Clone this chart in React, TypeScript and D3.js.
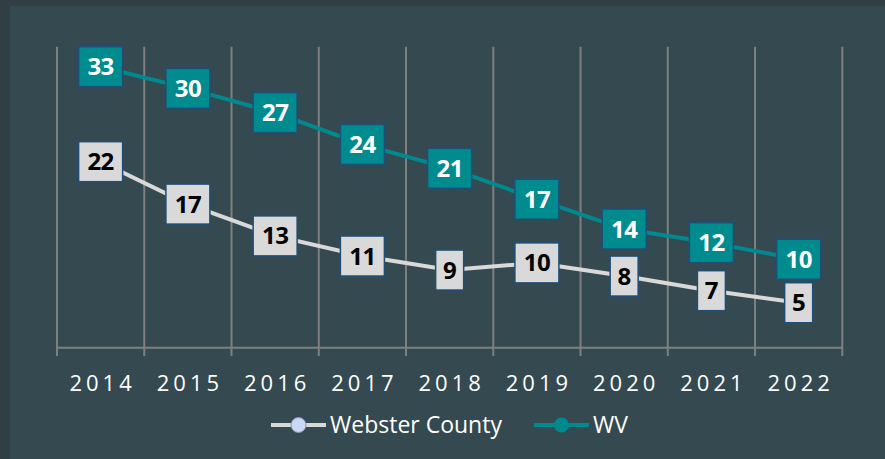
import React from "react";
import * as d3 from "d3";

const years = ["2014", "2015", "2016", "2017", "2018", "2019", "2020", "2021", "2022"];
const websterValues = [21.63, 16.7, 13.0, 10.66, 9.03, 9.86, 8.33, 6.63, 5.23];
const wvValues = [32.67, 30.16, 27.33, 23.63, 20.86, 17.26, 13.8, 12.21, 10.28];
const seriesNames = ["Webster County", "WV"];

const W = 885;
const H = 459;
const FONT = "'Open Sans', 'Noto Sans', sans-serif";

export default function App() {
  const x = d3.scaleBand<string>().domain(years).range([57, 842.3]).padding(0);
  const y = d3.scaleLinear().domain([0, 35]).range([347.7, 46.7]);
  const cx = (d: string) => (x(d) as number) + x.bandwidth() / 2;
  const line = d3
    .line<number>()
    .x((_, i) => cx(years[i]))
    .y((v) => y(v));
  const gridXs = years.map((d) => x(d) as number).concat([842.3]);

  const series = [
    { name: seriesNames[0], values: websterValues, stroke: "#d9d9d9", fill: "#d9d9d9", text: "#000000", marker: "#c9d8f7", markerStroke: "#8a8fb0" },
    { name: seriesNames[1], values: wvValues, stroke: "#00898e", fill: "#008b8f", text: "#ffffff", marker: "#00898e", markerStroke: "#00898e" },
  ];

  return (
    <svg width={W} height={H} style={{ position: "absolute", left: 0, top: 0 }}>
      <rect x={0} y={0} width={W} height={H} fill="#313f45" />
      <rect x={10} y={6} width={W - 10} height={H - 6} fill="#344a50" />
      {gridXs.map((gx, i) => (
        <line key={"g" + i} x1={gx} x2={gx} y1={y(35)} y2={356} stroke="#7f7f7f" strokeWidth={2} />
      ))}
      <line x1={57} x2={842.3} y1={y(0)} y2={y(0)} stroke="#7f7f7f" strokeWidth={2} />
      {years.map((yr) => (
        <text key={yr} x={cx(yr) + 2} y={391} textAnchor="middle" fill="#ffffff" fontFamily={FONT} fontSize={22} letterSpacing={4}>
          {yr}
        </text>
      ))}
      {series.map((s) => (
        <path key={s.name} d={line(s.values) || ""} fill="none" stroke={s.stroke} strokeWidth={4} />
      ))}
      {series.map((s) =>
        s.values.map((v, i) => {
          const label = String(Math.round(v));
          const bw = 12 + 16 * label.length;
          const bh = 40;
          const px = cx(years[i]);
          const py = y(v);
          return (
            <g key={s.name + i}>
              <rect x={px - bw / 2} y={py - bh / 2} width={bw} height={bh} fill={s.fill} stroke="#1f4e79" strokeWidth={1.5} />
              <text x={px} y={py + 8.5} textAnchor="middle" fill={s.text} fontFamily={FONT} fontWeight="bold" fontSize={24} letterSpacing={-0.5}>
                {label}
              </text>
            </g>
          );
        })
      )}
      <g>
        <line x1={271} x2={326} y1={425} y2={425} stroke="#d9d9d9" strokeWidth={4} />
        <circle cx={298.5} cy={425} r={7.5} fill={series[0].marker} stroke={series[0].markerStroke} strokeWidth={1} />
        <text x={330} y={433} fill="#ffffff" fontFamily={FONT} fontSize={23}>
          {series[0].name}
        </text>
        <line x1={534} x2={589} y1={425} y2={425} stroke="#00898e" strokeWidth={4} />
        <circle cx={561.5} cy={425} r={7.5} fill={series[1].marker} />
        <text x={593} y={433} fill="#ffffff" fontFamily={FONT} fontSize={23}>
          {series[1].name}
        </text>
      </g>
    </svg>
  );
}
